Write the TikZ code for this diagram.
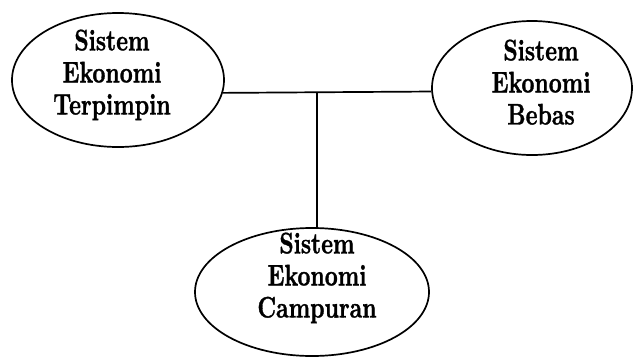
\documentclass[tikz,border=0pt]{standalone}
\usepackage{fontspec}
\usepackage{graphicx}
\usetikzlibrary{shapes.geometric}
\newfontfamily\heavyfont{lmroman10-bold.otf}[FakeBold=1.3]
\newcommand\stretchtxt[1]{\scalebox{1}[1.32]{\heavyfont\fontsize{22.5}{24.3}\selectfont\begin{tabular}{@{}c@{}}#1\end{tabular}}}
\begin{document}
\begin{tikzpicture}[x=1pt,y=-1pt,
  oval/.style={draw=black,line width=1.7pt,ellipse,inner sep=0pt},
  lbl/.style={inner sep=0pt},
  conn/.style={draw=black,line width=1.7pt}]
\useasboundingbox (0,0) rectangle (635,357);
\node[oval,minimum width=212pt,minimum height=134pt] (L) at (118,80) {};
\node[oval,minimum width=200pt,minimum height=134pt] (R) at (532,88) {};
\node[oval,minimum width=234pt,minimum height=128pt] (B) at (312,292) {};
\node[lbl] (Lt) at (112,76) {\stretchtxt{Sistem\\Ekonomi\\Terpimpin}};
\node[lbl] (Rt) at (541,86) {\stretchtxt{Sistem\\Ekonomi\\Bebas}};
\node[lbl] (Bt) at (317,279) {\stretchtxt{Sistem\\Ekonomi\\Campuran}};
\coordinate (J) at (317,92);
\draw[conn] (L.-7) -- (R.182);
\draw[conn] (J) -- (J |- B.north);
\end{tikzpicture}
\end{document}
